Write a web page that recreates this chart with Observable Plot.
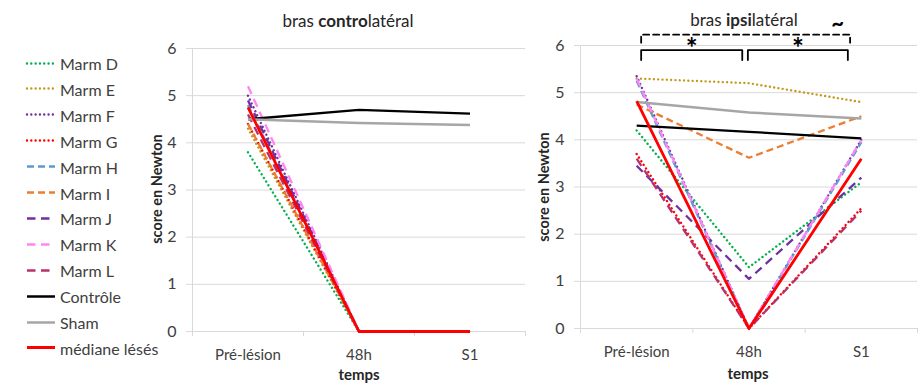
<!DOCTYPE html>
<html><head><meta charset="utf-8">
<script src="https://cdn.jsdelivr.net/npm/d3@7"></script>
<script src="https://cdn.jsdelivr.net/npm/@observablehq/plot@0.6"></script>
<style>
body{margin:0;background:#fff;font-family:Lato,"Open Sans",sans-serif;}
#root{position:relative;width:922px;height:385px;overflow:hidden;background:#fff;}
.abs{position:absolute;white-space:nowrap;}
.title{font-size:17px;color:#262626;transform:translate(-50%,-50%);}
.ylab{font-size:14.5px;font-weight:bold;color:#262626;transform:translate(-50%,-50%) rotate(-90deg);}
.xlab{font-size:15px;font-weight:bold;color:#262626;transform:translate(-50%,-50%);}
.legend-item{position:absolute;left:25px;display:flex;align-items:center;font-size:16px;color:#404040;transform:translateY(-50%);}
.legend-item svg{margin-right:4px;}
</style></head><body><div id="root"></div>
<script>
// ---- data ----
const categories = ["Pré-lésion", "48h", "S1"];
const seriesNames = ["Marm D","Marm E","Marm F","Marm G","Marm H","Marm I","Marm J","Marm K","Marm L","Contrôle","Sham","médiane lésés"];
// bras controlatéral
const contraPre = [3.8, 4.3, 5.0, 4.4, 4.8, 4.4, 4.9, 5.2, 4.6, 4.5, 4.5, 4.75];
const contra48h = [0, 0, 0, 0, 0, 0, 0, 0, 0, 4.7, 4.42, 0];
const contraS1  = [0, 0, 0, 0, 0, 0, 0, 0, 0, 4.62, 4.38, 0];
// bras ipsilatéral
const ipsiPre = [4.2, 5.3, 5.35, 3.7, 5.25, 4.75, 3.45, 5.3, 3.6, 4.3, 4.8, 4.82];
const ipsi48h = [1.3, 5.2, 0, 0, 0, 3.62, 1.05, 0, 0, 4.17, 4.58, 0];
const ipsiS1  = [3.1, 4.8, 4.0, 2.55, 3.95, 4.5, 3.2, 4.0, 2.5, 4.03, 4.45, 3.6];
const yTicks = [0, 1, 2, 3, 4, 5, 6];
// significance annotations (ipsilatéral)
const bracketFrom  = ["Pré-lésion", "48h", "Pré-lésion"];
const bracketTo    = ["48h", "S1", "S1"];
const bracketLabel = ["*", "*", "~"];
const bracketLevel = [5.9, 5.9, 6.23];

// ---- styles ----
const colors = ["#00b050","#c49a1c","#7030a0","#ff0000","#5b9bd5","#ed7d31","#7030a0","#ff85f2","#b8306c","#000000","#a6a6a6","#ff0000"];
const dashes = ["0.01,4.3","0.01,4.3","0.01,4.3","0.01,4.3","7,4","7,4","8.5,5.5","8.5,5.5","8.5,5.5",null,null,null];
const caps   = ["round","round","round","round","butt","butt","butt","butt","butt","butt","butt","butt"];
const widths = [2.4,2.4,2.4,2.4,2.3,2.3,2.3,2.3,2.3,2.3,2.5,2.8];

const root = document.getElementById("root");

function rowsFor(pre, h48, s1, i) {
  const cols = [pre, h48, s1];
  return categories.map((c, j) => ({x: j, y: cols[j][i], serie: seriesNames[i]}));
}

function chart({pre, h48, s1, left, width, marginLeft, marginTop, marginBottom, annotate}) {
  const marks = [
    Plot.gridY(yTicks, {stroke: "#d9d9d9", strokeOpacity: 1, strokeWidth: 1}),
    Plot.ruleX([-0.5], {stroke: "#d9d9d9"}),
    Plot.axisY(yTicks, {tickSize: 6, tickPadding: 10, stroke: "#d9d9d9", fill: "#404040", fontSize: 16, label: null}),
    Plot.axisX([-0.5, 0.5, 1.5, 2.5], {tickSize: 5, tickFormat: () => "", stroke: "#d9d9d9", label: null}),
    Plot.axisX([0, 1, 2], {tickSize: 0, tickPadding: 18, tickFormat: i => categories[i], fill: "#404040", fontSize: 15, label: null})
  ];
  seriesNames.forEach((s, i) => {
    marks.push(Plot.line(rowsFor(pre, h48, s1, i), {
      x: "x", y: "y", stroke: colors[i], strokeWidth: widths[i],
      strokeDasharray: dashes[i] || undefined, strokeLinecap: caps[i], strokeLinejoin: "round"
    }));
  });
  if (annotate) {
    const idx = c => categories.indexOf(c);
    bracketFrom.forEach((f, k) => {
      const dashed = bracketLabel[k] === "~";
      const x1 = idx(f) + (dashed ? 0.04 : (k === 0 ? 0.04 : -0.01));
      const x2 = idx(bracketTo[k]) - (dashed ? 0.1 : (k === 0 ? 0.06 : 0.12));
      const top = bracketLevel[k];
      const low = top - (dashed ? 0.17 : 0.21);
      marks.push(Plot.line([[x1, low], [x1, top], [x2, top], [x2, low]], {
        stroke: "#000", strokeWidth: 1.8, strokeDasharray: dashed ? "6,4" : undefined
      }));
      if (dashed) {
        marks.push(Plot.text([[x2 - 0.11, top + 0.22]], {text: () => bracketLabel[k], fontSize: 22, fontWeight: "bold", fill: "#000"}));
      } else {
        marks.push(Plot.text([[(x1 + x2) / 2, top + 0.02]], {text: () => bracketLabel[k], fontSize: 28, fontWeight: "bold", fill: "#000"}));
      }
    });
  }
  const svg = Plot.plot({
    width, height: 385,
    marginLeft, marginRight: 5, marginTop, marginBottom,
    x: {type: "linear", domain: [-0.5, 2.5]},
    y: {domain: [0, 6]},
    style: {fontFamily: "Lato, 'Open Sans', sans-serif", background: "transparent", overflow: "visible"},
    marks
  });
  svg.style.position = "absolute";
  svg.style.left = left + "px";
  svg.style.top = "0px";
  root.appendChild(svg);
}

chart({pre: contraPre, h48: contra48h, s1: contraS1, left: 140, width: 390, marginLeft: 52, marginTop: 48, marginBottom: 54, annotate: false});
chart({pre: ipsiPre, h48: ipsi48h, s1: ipsiS1, left: 530, width: 392, marginLeft: 50, marginTop: 45, marginBottom: 57, annotate: true});

function addText(cls, html, x, y) {
  const d = document.createElement("div");
  d.className = "abs " + cls;
  d.innerHTML = html;
  d.style.left = x + "px";
  d.style.top = y + "px";
  root.appendChild(d);
}
addText("title", "bras <b>contro</b>latéral", 348, 20);
addText("title", "bras <b>ipsi</b>latéral", 744, 19);
addText("ylab", "score en Newton", 156, 189);
addText("ylab", "score en Newton", 543, 187);
addText("xlab", "temps", 359, 374);
addText("xlab", "temps", 748, 373);

// legend
seriesNames.forEach((s, i) => {
  const item = document.createElement("div");
  item.className = "legend-item";
  item.style.top = (63 + i * 25.9) + "px";
  const ns = "http://www.w3.org/2000/svg";
  const sv = document.createElementNS(ns, "svg");
  sv.setAttribute("width", 31); sv.setAttribute("height", 8);
  const ln = document.createElementNS(ns, "line");
  ln.setAttribute("x1", 2); ln.setAttribute("x2", 30); ln.setAttribute("y1", 4); ln.setAttribute("y2", 4);
  ln.setAttribute("stroke", colors[i]); ln.setAttribute("stroke-width", widths[i]);
  ln.setAttribute("stroke-linecap", caps[i]);
  if (dashes[i]) ln.setAttribute("stroke-dasharray", dashes[i]);
  sv.appendChild(ln);
  item.appendChild(sv);
  const t = document.createElement("span");
  t.textContent = s;
  item.appendChild(t);
  root.appendChild(item);
});
</script></body></html>
